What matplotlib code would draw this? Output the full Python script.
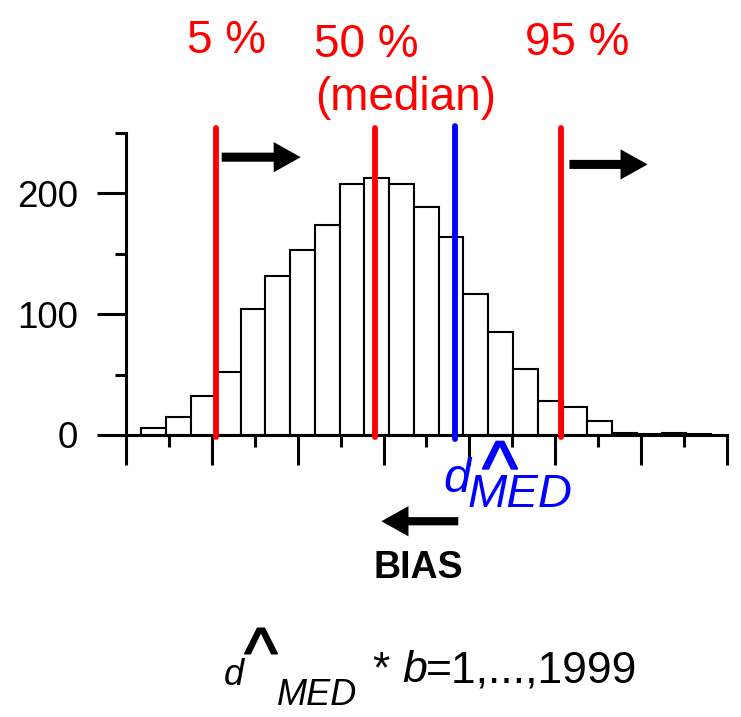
import matplotlib
matplotlib.use('Agg')
import matplotlib.pyplot as plt
import matplotlib.patheffects as pe
import numpy as np

plt.rcParams['font.family'] = ['Liberation Sans', 'DejaVu Sans']

# bootstrap medians: bin counts
counts = [6, 15, 32, 52, 104, 132, 153, 174, 208, 213, 208, 189,
          164, 117, 85, 55, 28, 23, 12, 2, 1, 2, 1]
bin_start = 0.36
bin_width = 0.577

# percentiles and the estimate
q05 = 2.10
q50 = 5.80
q95 = 10.14
d_med = 7.67

W, H = 741, 717
fig = plt.figure(figsize=(W / 100, H / 100), dpi=100)
ax = fig.add_axes([126 / W, 1 - 435 / H, 601 / W, 302 / H])


def ftext(x, y, s, **kw):
    # place text by pixel position (from top-left)
    kw.setdefault('va', 'baseline')
    return fig.text(x / W, 1 - y / H, s, **kw)


edges = bin_start + bin_width * np.arange(len(counts))
ax.bar(edges, counts, width=bin_width, align='edge', facecolor='white',
       edgecolor='black', linewidth=1.5, zorder=1)

for q in (q05, q50, q95):
    ax.plot([q, q], [-1.5, 254], color='red', lw=4.2, solid_capstyle='round',
            clip_on=False, zorder=3)
ax.plot([d_med, d_med], [-3, 256], color='blue', lw=4.2, solid_capstyle='round',
        clip_on=False, zorder=3)

# arrows
arrow_kw = dict(width=7.5, head_width=25, head_length=0.63, length_includes_head=True,
                color='black', lw=0, clip_on=False, zorder=4)
ax.arrow(2.23, 230, 4.07 - 2.23, 0, **arrow_kw)
ax.arrow(10.33, 224, 12.15 - 10.33, 0, **arrow_kw)
ax.arrow(7.74, -71.4, 5.95 - 7.74, 0, **dict(arrow_kw, width=6.8))

ax.set_xlim(0, 14)
ax.set_ylim(0, 250)
ax.spines['top'].set_visible(False)
ax.spines['right'].set_visible(False)
ax.spines['left'].set_linewidth(2.2)
ax.spines['bottom'].set_linewidth(2.2)

ax.set_xticks(np.arange(0, 15, 2))
ax.set_xticks(np.arange(1, 14, 2), minor=True)
ax.tick_params(axis='x', which='major', length=21.6, width=2.2, labelbottom=False)
ax.tick_params(axis='x', which='minor', length=8.6, width=2.2)
ax.set_yticks([0, 100, 200])
ax.set_yticks([50, 150, 250], minor=True)
ax.tick_params(axis='y', which='major', length=21, width=2.2, labelsize=26.5, pad=13.5)
ax.tick_params(axis='y', which='minor', length=8, width=2.2)

# percentile labels
ftext(187, 53, '5 %', color='red', fontsize=33)
ftext(314, 57, '50 %', color='red', fontsize=33)
ftext(315, 110, '(median)', color='red', fontsize=33)
ftext(525, 55, '95 %', color='red', fontsize=33)

# estimate label
ftext(443, 492, 'd', color='blue', fontsize=35, style='italic')
ftext(500, 494, '^', color='blue', fontsize=55, ha='center',
      path_effects=[pe.withStroke(linewidth=1.1, foreground='blue')])
ftext(468, 507, 'MED', color='blue', fontsize=34, style='italic')

ftext(373, 578, 'BIAS', fontsize=27, weight='bold')

# bootstrap label
ftext(224, 685, 'd', fontsize=26, style='italic')
ftext(261, 677, '^', fontsize=51, ha='center',
      path_effects=[pe.withStroke(linewidth=1.1, foreground='black')])
ftext(277, 705, 'MED', fontsize=26, style='italic')
ftext(372, 682, '*', fontsize=32)
ftext(402, 682, 'b', fontsize=32, style='italic')
ftext(426, 682, '=1,...,1999', fontsize=32)

fig.savefig('out.png', dpi=100)
